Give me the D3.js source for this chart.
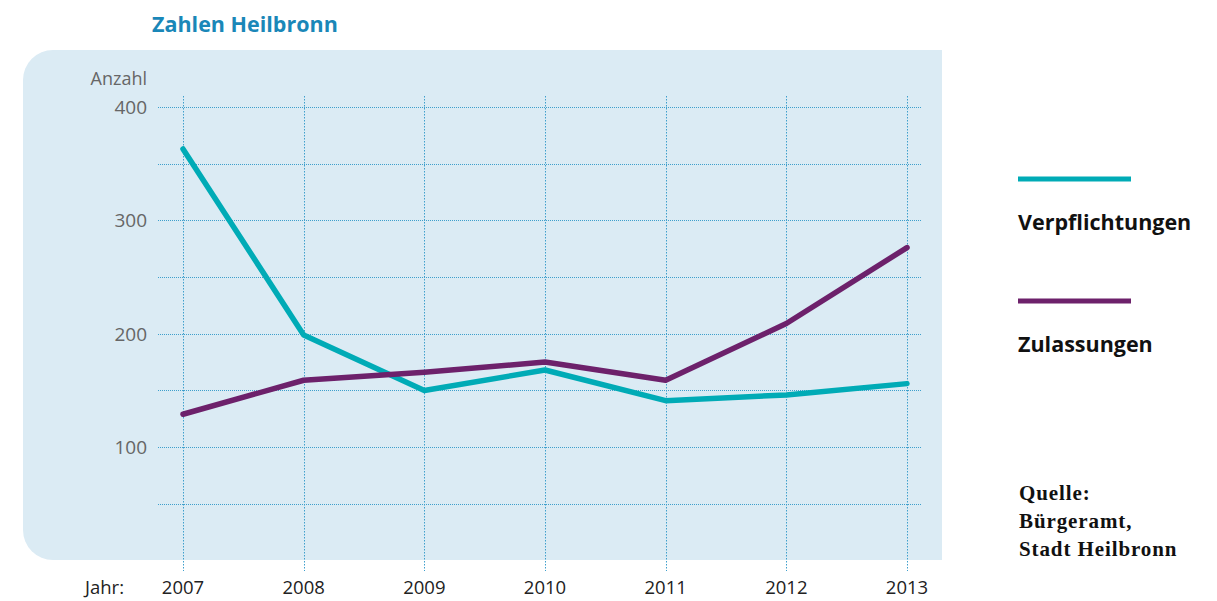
<!DOCTYPE html>
<html><head><meta charset="utf-8">
<script src="https://cdn.jsdelivr.net/npm/d3@7"></script>
<style>body{margin:0;background:#fff}svg{display:block}</style>
</head><body>
<script>
const years = [2007, 2008, 2009, 2010, 2011, 2012, 2013];
const verpflichtungen = [363, 199, 150, 168, 141, 146, 156];
const zulassungen = [129, 159, 166, 175, 159, 209, 276];
const yTicks = [100, 200, 300, 400];
const yGrid = [50, 100, 150, 200, 250, 300, 350, 400];
const seriesNames = ["Verpflichtungen", "Zulassungen"];
const colors = ["#00abb6", "#6d216b"];
const sourceLines = ["Quelle:", "Bürgeramt,", "Stadt Heilbronn"];

const W = 1217, H = 601;
const svg = d3.select("body").append("svg").attr("width", W).attr("height", H);

const x = d3.scalePoint().domain(years).range([183, 907]);
const y = d3.scaleLinear().domain([0, 400]).range([560.5, 107]);

// panel with rounded left corners
const px0 = 23, px1 = 942, py0 = 50, py1 = 560, r = 30;
svg.append("path")
  .attr("d", `M${px0 + r},${py0} H${px1} V${py1} H${px0 + r} A${r},${r} 0 0 1 ${px0},${py1 - r} V${py0 + r} A${r},${r} 0 0 1 ${px0 + r},${py0} Z`)
  .attr("fill", "#dbebf4");

// title
svg.append("text").attr("x", 152).attr("y", 32).text("Zahlen Heilbronn")
  .attr("font-family", "Open Sans").attr("font-weight", 700).attr("font-size", 21.5)
  .attr("fill", "#1a87b8");

// horizontal grid
svg.append("g").selectAll("line").data(yGrid).join("line")
  .attr("x1", 158).attr("x2", 921)
  .attr("y1", d => Math.round(y(d)) + 0.5).attr("y2", d => Math.round(y(d)) + 0.5)
  .attr("stroke", "#3e9fcc").attr("stroke-width", 1).attr("stroke-dasharray", "1,1");

// vertical grid
svg.append("g").selectAll("line").data(years).join("line")
  .attr("x1", d => Math.round(x(d)) + 0.5).attr("x2", d => Math.round(x(d)) + 0.5)
  .attr("y1", 96).attr("y2", 571)
  .attr("stroke", "#3e9fcc").attr("stroke-width", 1).attr("stroke-dasharray", "1.5,1.5");

// y labels
svg.append("g").selectAll("text").data(yTicks).join("text")
  .attr("x", 147).attr("y", d => y(d) + 7).attr("text-anchor", "end")
  .text(d => d)
  .attr("font-family", "Open Sans").attr("font-size", 19).attr("fill", "#666");
svg.append("text").attr("x", 147).attr("y", 85).attr("text-anchor", "end").text("Anzahl")
  .attr("font-family", "Open Sans").attr("font-size", 18).attr("fill", "#666");

// x labels
svg.append("g").selectAll("text").data(years).join("text")
  .attr("x", d => x(d)).attr("y", 594).attr("text-anchor", "middle").text(d => d)
  .attr("font-family", "Open Sans").attr("font-size", 18.5).attr("fill", "#222");
svg.append("text").attr("x", 124).attr("y", 594).attr("text-anchor", "end").text("Jahr:")
  .attr("font-family", "Open Sans").attr("font-size", 18.5).attr("fill", "#222");

// lines
const line = d3.line().x((d, i) => x(years[i])).y(d => y(d));
[verpflichtungen, zulassungen].forEach((s, i) => {
  svg.append("path").datum(s).attr("d", line)
    .attr("fill", "none").attr("stroke", colors[i]).attr("stroke-width", 5.5)
    .attr("stroke-linejoin", "round").attr("stroke-linecap", "round");
});

// legend
const legY = [179, 301];
seriesNames.forEach((n, i) => {
  svg.append("line").attr("x1", 1018).attr("x2", 1131).attr("y1", legY[i]).attr("y2", legY[i])
    .attr("stroke", colors[i]).attr("stroke-width", 5);
  svg.append("text").attr("x", 1018).attr("y", legY[i] + 51).text(n)
    .attr("font-family", "Open Sans").attr("font-weight", 700).attr("font-size", 21.5).attr("fill", "#111");
});

// source
svg.append("g").selectAll("text").data(sourceLines).join("text")
  .attr("x", 1019).attr("y", (d, i) => 500 + i * 28).text(d => d)
  .attr("font-family", "Liberation Serif").attr("font-weight", 700).attr("font-size", 21)
  .attr("letter-spacing", 0.9).attr("fill", "#111");
</script>
</body></html>
